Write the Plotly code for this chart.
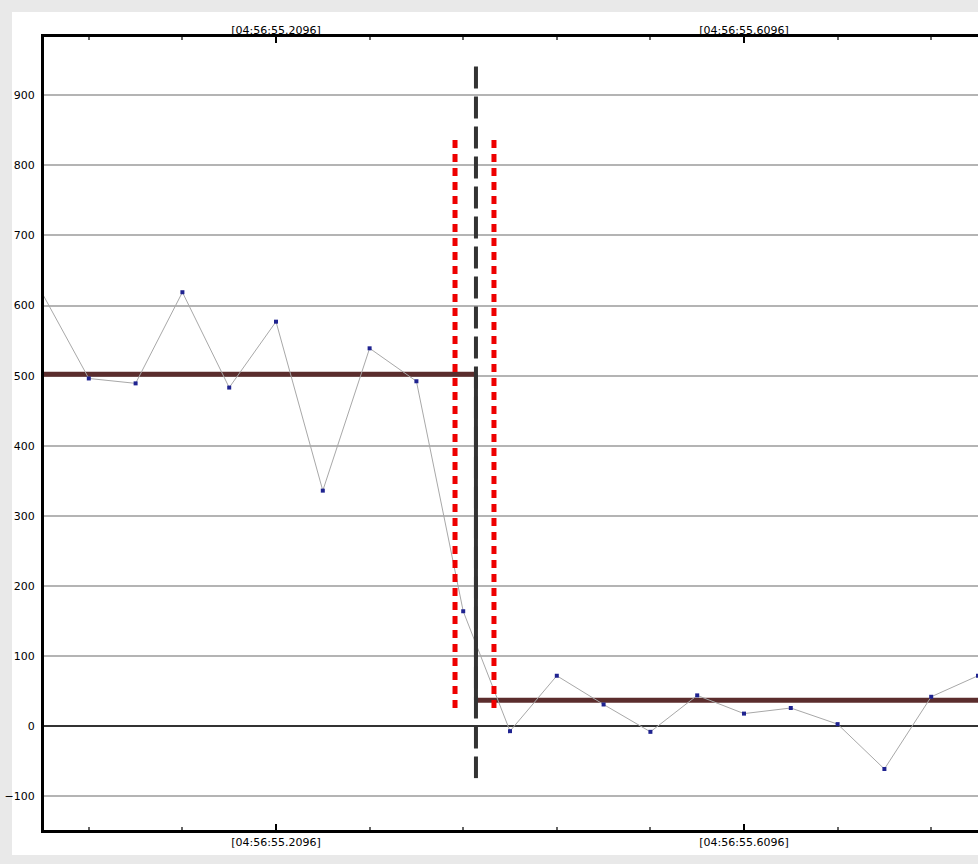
import plotly.graph_objects as go

# ---- data ----
times = [55.0096, 55.0496, 55.0896, 55.1296, 55.1696, 55.2096, 55.2496, 55.2896,
         55.3296, 55.3696, 55.4096, 55.4496, 55.4896, 55.5296, 55.5696, 55.6096,
         55.6496, 55.6896, 55.7296, 55.7696, 55.8096]
values = [618, 496, 489, 619, 483, 577, 336, 539, 492, 164, -7, 72, 31, -8, 44,
          18, 26, 3, -61, 42, 72]

change_time = 55.3805
ci_low = 55.3626
ci_high = 55.3959
mean_before = 502
mean_after = 37
x_start = 55.0113
x_end = 55.8096
ci_span = [26, 836]
change_span = [-74, 941]

major_ticks = [55.2096, 55.6096]
major_labels = ["[04:56:55.2096]", "[04:56:55.6096]"]
minor_ticks = [55.0496, 55.1296, 55.2896, 55.3696, 55.4496, 55.5296, 55.6896, 55.7696]
y_ticks = [-100, 0, 100, 200, 300, 400, 500, 600, 700, 800, 900]
y_range = [-148, 983]

FONT = "DejaVu Sans"
W, H = 978, 864
L, R, T, B = 44, 0, 37, 34

fig = go.Figure()

# mean levels (step)
fig.add_trace(go.Scatter(x=[x_start, change_time], y=[mean_before, mean_before],
                         mode="lines", line=dict(color="#5b2d2d", width=5),
                         hoverinfo="skip", showlegend=False))
fig.add_trace(go.Scatter(x=[change_time, x_end + 0.01], y=[mean_after, mean_after],
                         mode="lines", line=dict(color="#5b2d2d", width=5),
                         hoverinfo="skip", showlegend=False))
fig.add_trace(go.Scatter(x=[change_time, change_time], y=[mean_before, mean_after],
                         mode="lines", line=dict(color="#333333", width=4),
                         hoverinfo="skip", showlegend=False))

# data
fig.add_trace(go.Scatter(x=times, y=values, mode="lines+markers",
                         line=dict(color="#a8a8a8", width=1),
                         marker=dict(symbol="square", size=4, color="#1f2390"),
                         showlegend=False))

# confidence interval lines
for xc in (ci_low, ci_high):
    fig.add_trace(go.Scatter(x=[xc, xc], y=ci_span, mode="lines",
                             line=dict(color="#ee0000", width=5, dash="8px,6px"),
                             hoverinfo="skip", showlegend=False))

# change point dashed line
fig.add_trace(go.Scatter(x=[change_time, change_time], y=change_span[::-1], mode="lines",
                         line=dict(color="#333333", width=4, dash="22px,8px"),
                         hoverinfo="skip", showlegend=False))

# invisible trace for the top axis
fig.add_trace(go.Scatter(x=[x_start, x_end], y=[0, 0], xaxis="x2", mode="lines",
                         line=dict(width=0), opacity=0, hoverinfo="skip", showlegend=False))

pw = W - L - R
ph = H - T - B
fig.add_shape(type="rect", xref="paper", yref="paper", layer="below",
              x0=(12 - L) / pw, x1=1.02, y0=-(855 - (H - B)) / ph, y1=1 + (T - 12) / ph,
              fillcolor="white", line=dict(width=0))

axis_common = dict(
    range=[x_start, x_end], tickmode="array", tickvals=major_ticks, ticktext=major_labels,
    ticks="inside", ticklen=6, tickwidth=2, tickcolor="#000000",
    showgrid=False, zeroline=False,
    tickfont=dict(family=FONT, size=11, color="#000000"),
    minor=dict(tickmode="array", tickvals=minor_ticks, ticks="inside", ticklen=3,
               tickwidth=2, tickcolor="#666666", showgrid=False),
)

fig.update_layout(
    width=W, height=H,
    margin=dict(l=L, r=R, t=T, b=B, pad=0),
    paper_bgcolor="#e9e9e9", plot_bgcolor="white",
    xaxis=dict(**axis_common, showline=True, linecolor="#000000", linewidth=3, mirror=True),
    xaxis2=dict(**axis_common, overlaying="x", side="top", matches="x", showline=False),
    yaxis=dict(range=y_range, tickmode="array", tickvals=y_ticks,
               showgrid=True, gridcolor="#b4b4b4", gridwidth=2,
               zeroline=True, zerolinecolor="#333333", zerolinewidth=2,
               showline=True, linecolor="#000000", linewidth=3,
               ticks="outside", ticklen=4, tickcolor="rgba(0,0,0,0)",
               tickfont=dict(family=FONT, size=11, color="#000000")),
    showlegend=False,
)

fig.write_html("out.html", config={"displayModeBar": False},
               post_script="document.body.style.margin='0';")
